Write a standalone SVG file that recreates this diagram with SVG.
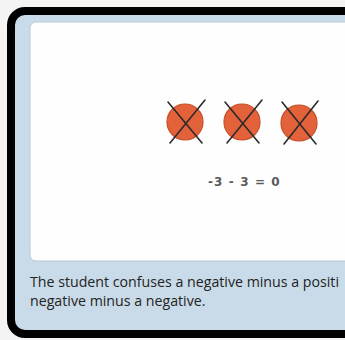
<svg xmlns="http://www.w3.org/2000/svg" width="345" height="340" viewBox="0 0 345 340">
<style>
.chip{fill:#e4623a;stroke:#c4502c;stroke-width:1.2}
.x{stroke:#2b2b2b;stroke-width:1.6;stroke-linecap:round;fill:none}
.cap{font-family:"Open Sans","Noto Sans",sans-serif;font-size:14.2px;fill:#232323}
.eq{font-family:"DejaVu Sans",sans-serif;font-size:12px;font-weight:bold;fill:#5a5a5a;letter-spacing:1.1px}
</style>
<rect width="345" height="340" fill="#f4f4f4"/>
<g id="frame">
<rect x="11" y="11" width="360" height="323" rx="14" fill="#c9dbe8" stroke="#000" stroke-width="8"/>
<rect x="30" y="22" width="330" height="239" rx="6" fill="#fefefe" stroke="#b8c9d6" stroke-width="1"/>
</g>
<g id="chip1">
<circle class="chip" cx="185" cy="122" r="18"/>
<path class="x" d="M168 102L202 143M170 143L205 100"/>
</g>
<g id="chip2">
<circle class="chip" cx="242" cy="122" r="18"/>
<path class="x" d="M225 102L259 143M227 143L262 100"/>
</g>
<g id="chip3">
<circle class="chip" cx="299" cy="123" r="18"/>
<path class="x" d="M282 102L316 144M284 144L318 101"/>
</g>
<g id="equation">
<text class="eq" x="208" y="186">-3 - 3 = 0</text>
</g>
<g id="caption">
<text class="cap" x="30" y="287">The student confuses a negative minus a positi</text>
<text class="cap" x="30" y="306">negative minus a negative.</text>
</g>
</svg>
